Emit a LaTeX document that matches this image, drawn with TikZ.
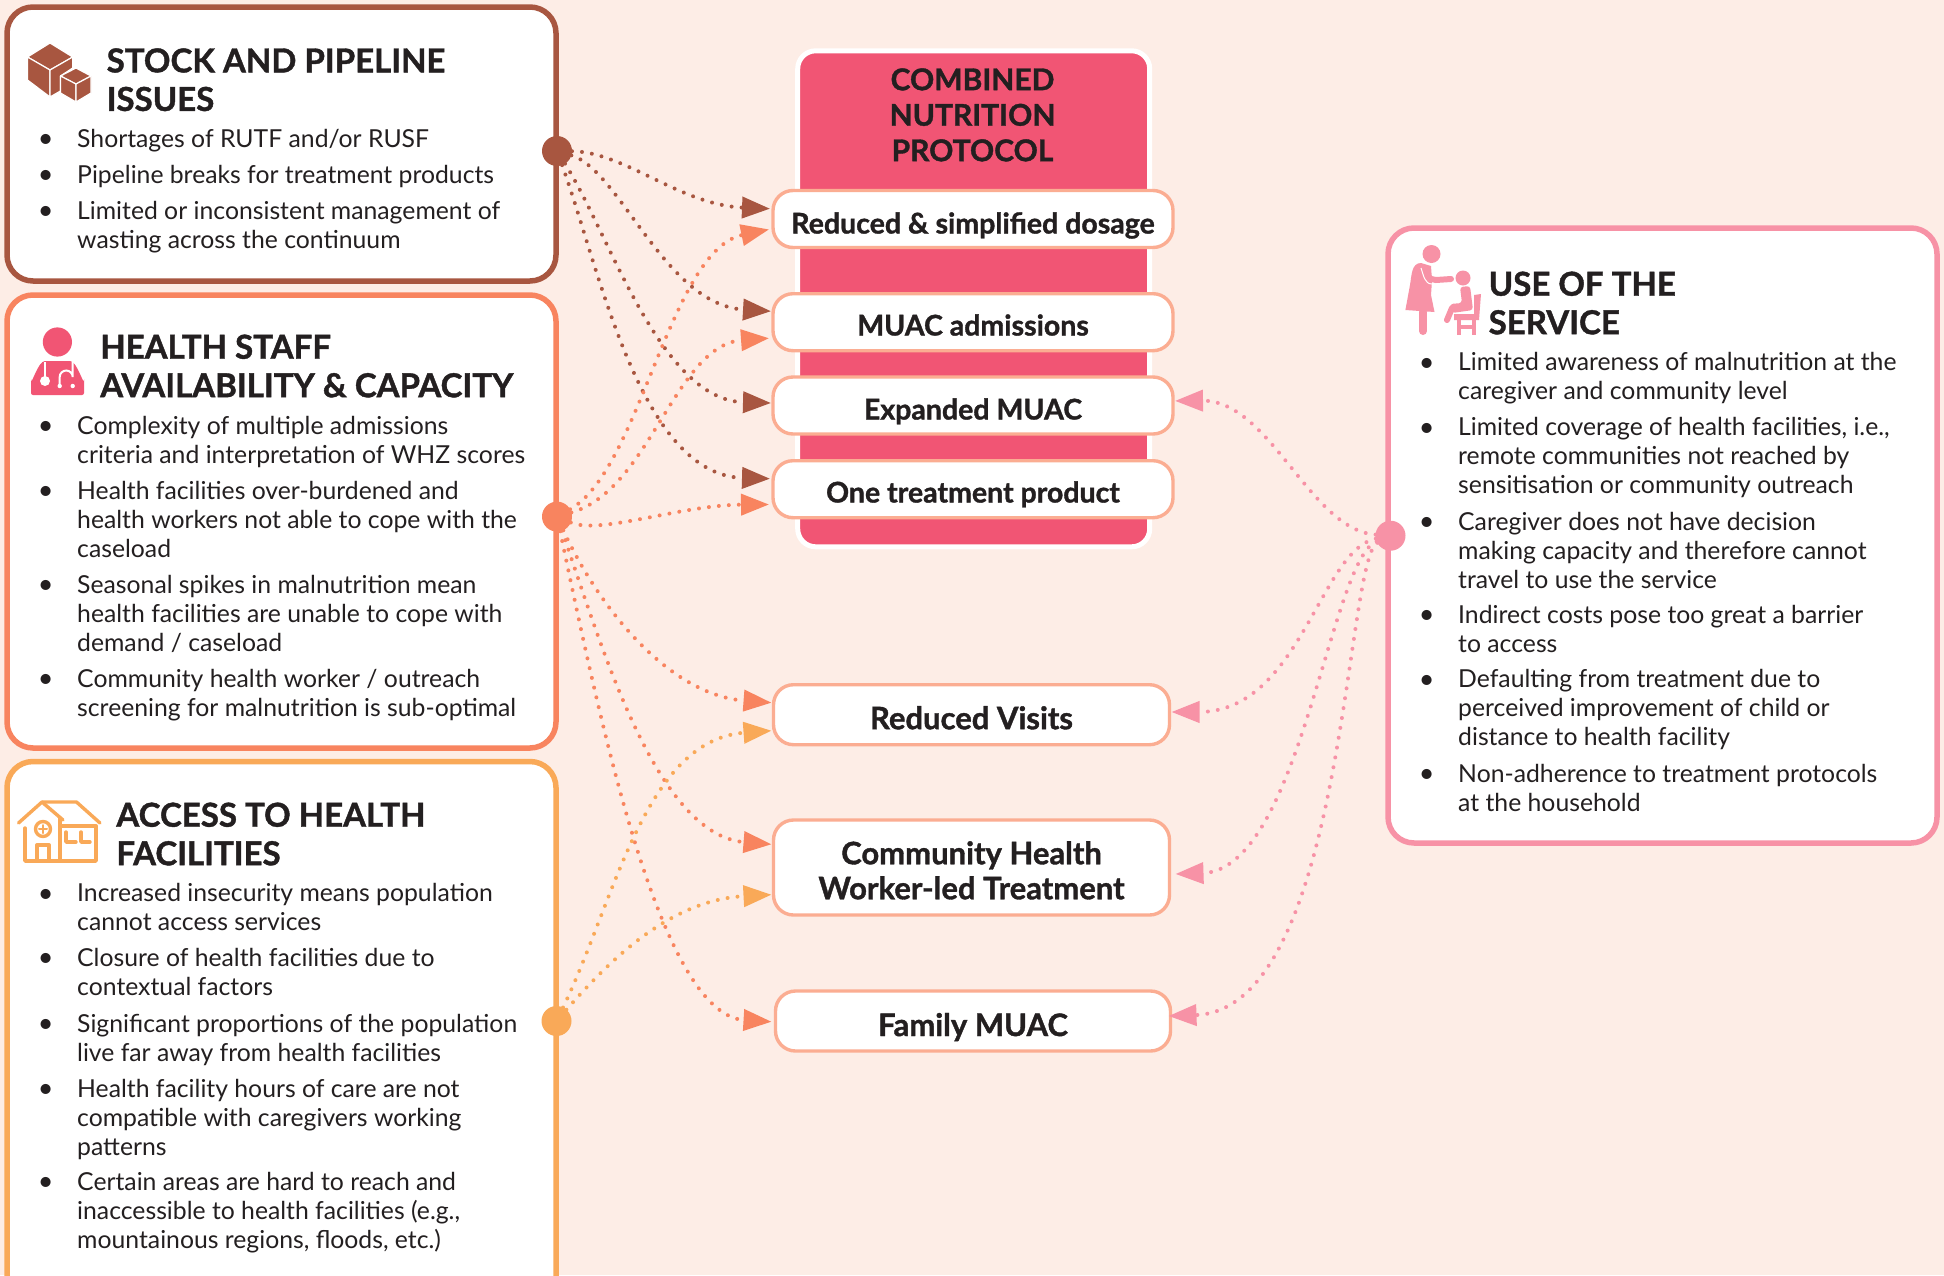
\documentclass[tikz,border=0pt]{standalone}
\usepackage{fontspec}
\setmainfont{Lato}[BoldFeatures={FakeBold=1.2}]
\usetikzlibrary{arrows.meta,calc}
\definecolor{bgc}{HTML}{FDEDE6}
\definecolor{stockc}{HTML}{A85640}
\definecolor{healthc}{HTML}{F8845F}
\definecolor{accessc}{HTML}{F9A958}
\definecolor{usec}{HTML}{F792A6}
\definecolor{redc}{HTML}{F15574}
\definecolor{peachc}{HTML}{FBAD92}
\definecolor{inkc}{HTML}{231F20}
\tikzset{
  panel/.style={draw=#1,fill=white,line width=5.5pt,rounded corners=26pt,outer sep=0pt,inner sep=0pt},
  itembox/.style={draw=peachc,fill=white,line width=3.4pt,rounded corners=20pt,outer sep=0pt,inner sep=0pt,
    text=inkc,font=\fontsize{28.5}{35}\selectfont\bfseries,align=center,text depth=0pt},
  bigitem/.style={itembox,font=\fontsize{31}{35}\selectfont\bfseries},
  head/.style={anchor=north west,inner sep=0pt,align=left,text=inkc,font=\fontsize{33}{38.5}\selectfont\bfseries},
  bodytext/.style={anchor=north west,inner sep=0pt,align=left,text=inkc,font=\fontsize{24.75}{28.9}\selectfont},
  bulmark/.style={anchor=base,inner sep=0pt,text=inkc,font=\fontsize{27}{27}\selectfont},
  hub/.style={circle,fill=#1,draw=none,minimum size=30pt,inner sep=0pt,outer sep=0pt},
  link/.style={draw=#1,line width=4pt,line cap=round,dash pattern=on 0pt off 10pt,
    -{Triangle[length=28pt,width=21pt,fill=#1]}},
}
\newcommand{\bulitem}[4]{%
  \node[bulmark] (#1b) at (#2-32,#3+0.7) {•};
  \node[bodytext] (#1) at (#2-0.7,#3-22) {\rule{0pt}{22pt}#4};}
\newcommand{\headtext}[4]{\node[head] (#1) at (#2-0.5,#3-29.5) {\rule{0pt}{30pt}#4};}
\begin{document}
\begin{tikzpicture}[x=1pt,y=-1pt]
\clip (0,0) rectangle (1944,1275);
\fill[bgc] (0,0) rectangle (1944,1275);
% side panels
\node[panel=stockc,minimum width=549pt,minimum height=274pt] (stockbox) at (281.5,144) {};
\node[panel=healthc,minimum width=549pt,minimum height=453pt] (healthbox) at (281.5,521.5) {};
\node[panel=accessc,minimum width=549pt,minimum height=568pt] (accessbox) at (281.5,1045.5) {};
\node[panel=usec,minimum width=549pt,minimum height=615pt] (usebox) at (1662.5,535.5) {};
% central panel
\node[draw=white,fill=redc,line width=5pt,rounded corners=18pt,outer sep=0pt,inner sep=0pt,
  minimum width=352pt,minimum height=496pt] (protocol) at (973.7,298.8) {};
\node[anchor=north,inner sep=0pt,align=center,text=inkc,font=\fontsize{30}{35.5}\selectfont\bfseries]
  (protocoltitle) at (972.5,60) {\rule{0pt}{30pt}COMBINED\\NUTRITION\\PROTOCOL};
% item boxes
\node[itembox,minimum width=400pt,minimum height=57pt,text height=29pt] (dose) at (973,219) {Reduced \& simplified dosage};
\node[itembox,minimum width=400pt,minimum height=57pt,text height=26.6pt] (admit) at (973,322.2) {MUAC admissions};
\node[itembox,minimum width=400pt,minimum height=57pt,text height=28pt] (expand) at (973,405.5) {Expanded MUAC};
\node[itembox,minimum width=400pt,minimum height=57pt,text height=26.6pt] (product) at (973,489.2) {One treatment product};
\node[bigitem,minimum width=396pt,minimum height=60pt,text height=29pt] (visits) at (971.5,714.7) {Reduced Visits};
\node[bigitem,minimum width=396pt,minimum height=95pt] (chw) at (971.5,867.5) {\rule{0pt}{28.5pt}Community Health\\Worker-led Treatment};
\node[bigitem,minimum width=395pt,minimum height=60pt,text height=30pt] (family) at (973,1021) {Family MUAC};
% hubs
\node[hub=stockc] (stockhub) at (557,151) {};
\node[hub=healthc] (healthhub) at (557,516.6) {};
\node[hub=accessc] (accesshub) at (556.5,1021) {};
\node[hub=usec] (usehub) at (1390.5,535.7) {};
% connectors
\draw[link=stockc] (stockhub) .. controls (625,152) and (680,205) .. ($(dose.west)+(-3,-10.3)$);
\draw[link=stockc] (stockhub) .. controls (620,170) and (665,305) .. ($(admit.west)+(-2,-11)$);
\draw[link=stockc] (stockhub) .. controls (610,235) and (660,400) .. ($(expand.west)+(-2,-2.5)$);
\draw[link=stockc] (stockhub) .. controls (600,270) and (640,475) .. ($(product.west)+(-3,-10.5)$);
\draw[link=healthc] (healthhub) .. controls (640,470) and (670,250) .. ($(dose.west)+(-4,10.4)$);
\draw[link=healthc] (healthhub) .. controls (650,490) and (675,345) .. ($(admit.west)+(-4,16)$);
\draw[link=healthc] (healthhub) .. controls (600,535) and (680,505) .. ($(product.west)+(-4,15.3)$);
\draw[link=healthc] (healthhub) .. controls (600,610) and (670,695) .. ($(visits.west)+(-2,-12)$);
\draw[link=healthc] (healthhub) .. controls (600,640) and (655,835) .. ($(chw.west)+(-2,-23.2)$);
\draw[link=healthc] (healthhub) .. controls (600,720) and (660,1015) .. ($(family.west)+(-4,0.7)$);
\draw[link=accessc] (accesshub) .. controls (615,900) and (645,740) .. ($(visits.west)+(-2,16)$);
\draw[link=accessc] (accesshub) .. controls (610,960) and (670,900) .. ($(chw.west)+(-2,27.2)$);
\draw[link=usec] (usehub) .. controls (1310,530) and (1270,400) .. ($(expand.east)+(2,-4.6)$);
\draw[link=usec] (usehub) .. controls (1320,550) and (1300,712) .. ($(visits.east)+(2,-2.7)$);
\draw[link=usec] (usehub) .. controls (1330,560) and (1300,870) .. ($(chw.east)+(6,6.5)$);
\draw[link=usec] (usehub) .. controls (1345,560) and (1345,1010) .. ($(family.east)+(-2,-5)$);
% titles
\headtext{stocktitle}{107}{71.7}{STOCK AND PIPELINE\\ISSUES}
\headtext{healthtitle}{100.6}{358}{HEALTH STAFF\\AVAILABILITY \& CAPACITY}
\headtext{accesstitle}{116.7}{826}{ACCESS TO HEALTH\\FACILITIES}
\headtext{usetitle}{1489}{295}{USE OF THE\\SERVICE}
% stock items
\bulitem{sa}{77.7}{147}{Shortages of RUTF and/or RUSF}
\bulitem{sb}{77.7}{183}{Pipeline breaks for treatment products}
\bulitem{sc}{77.7}{219}{Limited or inconsistent management of\\wasting across the continuum}
% health items
\bulitem{ha}{77.7}{434}{Complexity of multiple admissions\\criteria and interpretation of WHZ scores}
\bulitem{hb}{77.7}{499}{Health facilities over-burdened and\\health workers not able to cope with the\\caseload}
\bulitem{hc}{77.7}{593}{Seasonal spikes in malnutrition mean\\health facilities are unable to cope with\\demand / caseload}
\bulitem{hd}{77.7}{687}{Community health worker / outreach\\screening for malnutrition is sub-optimal}
% access items
\bulitem{aa}{77.7}{901.5}{Increased insecurity means population\\cannot access services}
\bulitem{ab}{77.7}{966}{Closure of health facilities due to\\contextual factors}
\bulitem{ac}{77.7}{1032}{Significant proportions of the population\\live far away from health facilities}
\bulitem{ad}{77.7}{1097}{Health facility hours of care are not\\compatible with caregivers working\\patterns}
\bulitem{ae}{77.7}{1190}{Certain areas are hard to reach and\\inaccessible to health facilities (e.g.,\\mountainous regions, floods, etc.)}
% use items
\bulitem{ua}{1458.7}{370.7}{Limited awareness of malnutrition at the\\caregiver and community level}
\bulitem{ub}{1458.7}{435.7}{Limited coverage of health facilities, i.e.,\\remote communities not reached by\\sensitisation or community outreach}
\bulitem{uc}{1458.7}{530}{Caregiver does not have decision\\making capacity and therefore cannot\\travel to use the service}
\bulitem{ud}{1458.7}{623}{Indirect costs pose too great a barrier\\to access}
\bulitem{ue}{1458.7}{687.5}{Defaulting from treatment due to\\perceived improvement of child or\\distance to health facility}
\bulitem{uf}{1458.7}{782}{Non-adherence to treatment protocols\\at the household}
% icon: boxes
\begin{scope}[draw=white,line width=1.2pt,fill=stockc,line join=round]
\filldraw (50,43) -- (72.7,57) -- (50,70) -- (27.5,57) -- cycle;
\filldraw (27.5,57) -- (50,70) -- (50,97) -- (27.5,80) -- cycle;
\filldraw (72.7,57) -- (50,70) -- (50,97) -- (60.5,91) -- (60.5,76) -- (72.7,68) -- cycle;
\filldraw (76,68) -- (91,76) -- (76,84) -- (60.5,76) -- cycle;
\filldraw (60.5,76) -- (76,84) -- (76,102) -- (60.5,93) -- cycle;
\filldraw (91,76) -- (76,84) -- (76,102) -- (91,93) -- cycle;
\end{scope}
% icon: health worker
\fill[redc] (57.4,342) circle (14.6);
\fill[redc,rounded corners=2pt] (31,395) -- (31,378) to[out=-90,in=180] (47,361) -- (68,361) to[out=0,in=-90] (84,378) -- (84,395) -- cycle;
\draw[white,line width=2pt] (45,362) -- (45,377);
\fill[white] (45,381) circle (5);
\draw[white,line width=2pt,line cap=round] (72.7,362) -- (72.7,377) arc[start angle=0,end angle=-180,x radius=6.5,y radius=6.5] -- (59.7,385);
\fill[white] (59.7,386) circle (2.2);
\fill[white] (72.7,386) circle (2.2);
% icon: health facility
\begin{scope}[draw=accessc,line width=3.4pt,line join=round,line cap=round]
\draw (18.5,823) -- (42,802) -- (63,820);
\draw (42,802) -- (76.5,802) -- (100,823);
\draw (25,828) -- (25,861) -- (96,861) -- (96,826) -- (62,826);
\draw (60,818) -- (60,861);
\draw (43,829) circle (7.5);
\draw[line width=2pt] (39,829) -- (47,829) (43,825) -- (43,833);
\draw (37,861) -- (37,845) -- (49,845) -- (49,861);
\draw (66,832) -- (66,842) -- (76,842);
\draw (81,832) -- (81,842) -- (90,842);
\end{scope}
% icon: caregiver and child
\fill[usec] (1431.5,254) circle (9);
\fill[usec] (1421,263) to[out=180,in=80] (1410,285) -- (1405.4,310) -- (1434.5,312) -- (1431,295) -- (1432,280) -- (1431,266) -- cycle;
\draw[usec,line width=6pt,line cap=round] (1423,268) to[out=-70,in=180] (1436,280) -- (1451,279);
\draw[white,line width=1pt] (1421,268) to[out=-70,in=180] (1432,284);
\draw[usec,line width=8pt,line cap=round] (1423,312) -- (1423,331);
\fill[usec] (1463,278) circle (7.5);
\fill[usec,rounded corners=3pt] (1460,287) -- (1470,286) -- (1473,310) -- (1452,313) -- (1450,304) -- (1462,303) -- cycle;
\draw[usec,line width=6pt,line cap=round] (1452,308) -- (1447,320);
\fill[usec] (1474,295) -- (1481,294) -- (1479,320) -- (1454,320) -- (1454,314) -- (1474,314) -- cycle;
\draw[usec,line width=3.5pt] (1459,320) -- (1459,335) (1474,320) -- (1474,335) (1459,327) -- (1474,327);
\end{tikzpicture}
\end{document}
